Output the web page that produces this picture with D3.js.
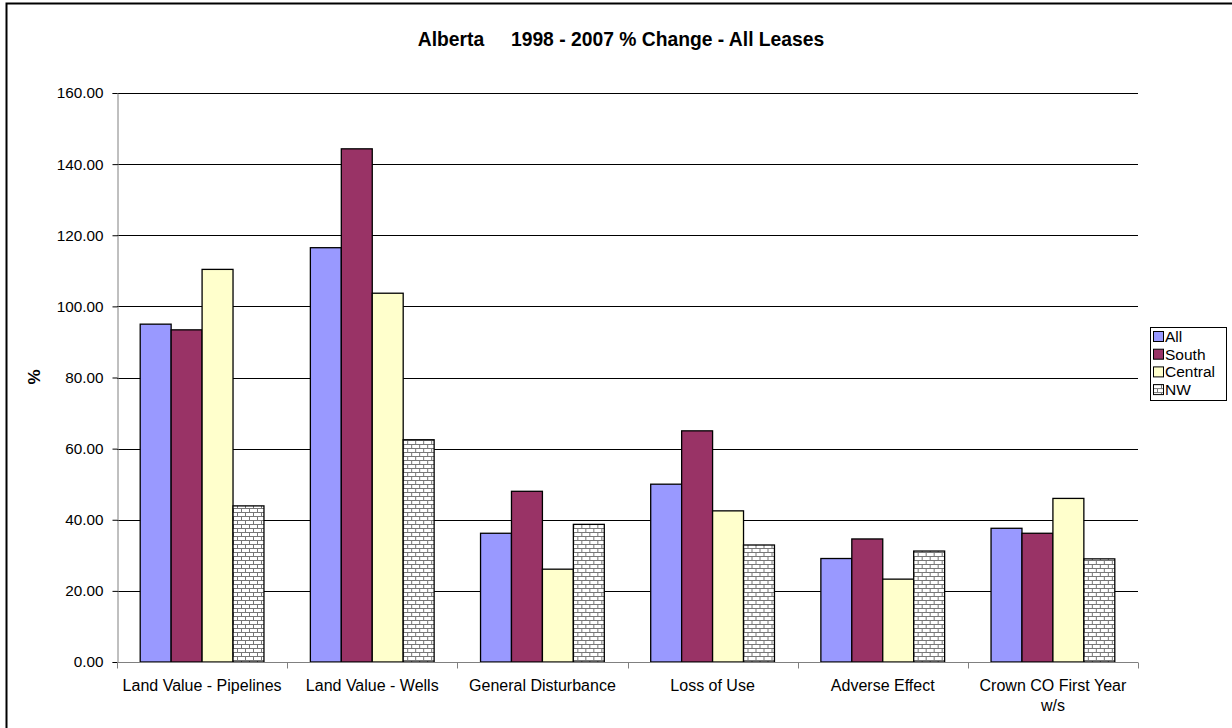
<!DOCTYPE html>
<html>
<head>
<meta charset="utf-8">
<script src="https://cdn.jsdelivr.net/npm/d3@7"></script>
<style>
  body { margin: 0; background: #fff; }
  text { font-family: "Liberation Sans", Arial, sans-serif; }
</style>
</head>
<body>
<svg id="chart" width="1232" height="728"></svg>
<script>
const categories = ['Land Value - Pipelines', 'Land Value - Wells', 'General Disturbance', 'Loss of Use', 'Adverse Effect', 'Crown CO First Year w/s']
const seriesNames = ['All', 'South', 'Central', 'NW']
const allValues = [95.0, 116.5, 36.2, 50.0, 29.1, 37.6]
const southValues = [93.4, 144.3, 48.0, 65.0, 34.6, 36.2]
const centralValues = [110.4, 103.7, 26.1, 42.5, 23.3, 46.0]
const nwValues = [43.9, 62.5, 38.7, 32.9, 31.2, 29.0]
const yTicks = [0, 20, 40, 60, 80, 100, 120, 140, 160]

const colors = ['#9999ff', '#993366', '#ffffcc', 'url(#brick)']

const drawChart = (targetSvg) => {
    let svg = d3.select(targetSvg)

    let margin = {left: 117, right: 1138, top: 93, bottom: 662}

    // brick pattern for NW
    let defs = svg.append('defs')
    let pat = defs.append('pattern')
        .attr('id', 'brick')
        .attr('patternUnits', 'userSpaceOnUse')
        .attr('width', 8).attr('height', 8)
    pat.append('rect').attr('width', 8).attr('height', 8).attr('fill', '#fff')
    pat.append('path')
        .attr('d', 'M0,0.5H8M0,4.5H8M0.5,0V4M4.5,4V8')
        .attr('stroke', '#777').attr('stroke-width', 1).attr('fill', 'none')

    // outer frame
    svg.append('rect')
        .attr('x', 6.5).attr('y', 3.5)
        .attr('width', 1240).attr('height', 740)
        .attr('fill', 'none').attr('stroke', '#000').attr('stroke-width', 2)

    let x0 = d3.scaleBand()
        .domain(categories)
        .range([margin.left, margin.right])

    let bw = x0.bandwidth() / 5.5
    let x1 = d3.scaleBand()
        .domain(seriesNames)
        .range([0.75 * bw, 4.75 * bw])

    let y = d3.scaleLinear()
        .domain([0, 160])
        .range([margin.bottom, margin.top])

    // gridlines
    svg.append('g')
        .selectAll('line')
        .data(yTicks.filter(d => d > 0))
        .enter()
        .append('line')
        .attr('x1', margin.left).attr('x2', margin.right)
        .attr('y1', d => Math.round(y(d)) + 0.5).attr('y2', d => Math.round(y(d)) + 0.5)
        .attr('stroke', '#000')

    let table = categories.map((c, i) => ({
        cat: c,
        vals: [allValues[i], southValues[i], centralValues[i], nwValues[i]]
    }))

    let groups = svg.append('g')
        .selectAll('g')
        .data(table)
        .enter()
        .append('g')
        .attr('transform', d => 'translate(' + x0(d.cat) + ',0)')

    groups.selectAll('rect')
        .data(d => d.vals.map((v, j) => ({name: seriesNames[j], v: v, j: j})))
        .enter()
        .append('rect')
        .attr('x', d => x1(d.name))
        .attr('width', x1.bandwidth())
        .attr('y', d => y(d.v))
        .attr('height', d => y(0) - y(d.v))
        .attr('fill', d => colors[d.j])
        .attr('stroke', '#000')
        .attr('stroke-width', 1.3)

    // y axis
    let yAxis = d3.axisLeft(y)
        .tickValues(yTicks)
        .tickFormat(d3.format('.2f'))
        .tickSize(5)
        .tickPadding(9)
    let gy = svg.append('g')
        .attr('transform', 'translate(' + (margin.left + 0.5) + ',0)')
        .call(yAxis)
    gy.select('.domain').attr('stroke', '#808080')
    gy.selectAll('.tick line').attr('stroke', '#000')
    gy.selectAll('text').attr('font-size', 15.3).attr('fill', '#000')
        .style('font-family', '"Liberation Sans", Arial, sans-serif')

    // x axis
    let gx = svg.append('g')
        .attr('transform', 'translate(0,' + (margin.bottom + 0.5) + ')')
    gx.append('line')
        .attr('x1', margin.left).attr('x2', margin.right)
        .attr('stroke', '#808080')
    gx.selectAll('line.tk')
        .data(d3.range(categories.length + 1))
        .enter()
        .append('line')
        .attr('class', 'tk')
        .attr('x1', i => Math.round(margin.left + i * x0.step()) + 0.5)
        .attr('x2', i => Math.round(margin.left + i * x0.step()) + 0.5)
        .attr('y1', 0).attr('y2', 6)
        .attr('stroke', '#808080')

    let labs = gx.selectAll('text')
        .data(categories)
        .enter()
        .append('text')
        .attr('x', d => x0(d) + x0.bandwidth() / 2)
        .attr('y', 28)
        .attr('text-anchor', 'middle')
        .attr('font-size', 16)
    labs.each(function (d) {
        let t = d3.select(this)
        let lines = d === 'Crown CO First Year w/s' ? ['Crown CO First Year', 'w/s'] : [d]
        lines.forEach((l, k) => {
            t.append('tspan').attr('x', x0(d) + x0.bandwidth() / 2).attr('dy', k ? 20 : 0).text(l)
        })
    })

    // title
    svg.append('text')
        .attr('x', 621).attr('y', 46)
        .attr('text-anchor', 'middle')
        .attr('font-size', 19.3).attr('font-weight', 'bold')
        .style('white-space', 'pre')
        .text('Alberta     1998 - 2007 % Change - All Leases')

    // y label
    svg.append('text')
        .attr('transform', 'translate(40,377) rotate(-90)')
        .attr('text-anchor', 'middle')
        .attr('font-size', 17).attr('font-weight', 'bold')
        .text('%')

    // legend
    let lg = svg.append('g')
    lg.append('rect')
        .attr('x', 1150.5).attr('y', 327.5)
        .attr('width', 76).attr('height', 73)
        .attr('fill', '#fff').attr('stroke', '#000')
    let items = lg.selectAll('g')
        .data(seriesNames)
        .enter()
        .append('g')
        .attr('transform', (d, i) => 'translate(1153,' + (331 + i * 17.7) + ')')
    items.append('rect')
        .attr('x', 0.5).attr('y', 0.5)
        .attr('width', 10).attr('height', 10)
        .attr('fill', (d, i) => colors[i])
        .attr('stroke', '#000')
    items.append('text')
        .attr('x', 12).attr('y', 11)
        .attr('font-size', 15.5)
        .text(d => d)
}

drawChart('#chart')
</script>
</body>
</html>
